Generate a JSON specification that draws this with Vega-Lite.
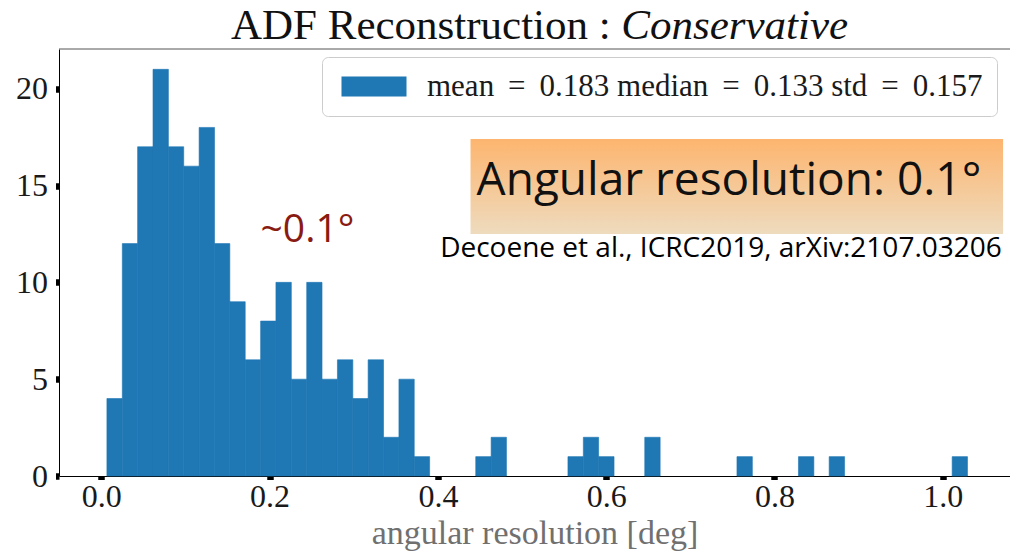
{
  "$schema": "https://vega.github.io/schema/vega-lite/v6.json",
  "width": 951,
  "height": 427,
  "autosize": "none",
  "padding": {"left": 59, "top": 49, "right": 0, "bottom": 79},
  "background": "#ffffff",
  "datasets": {
    "hist": [
      {"lo": 0.0066, "hi": 0.0249, "n": 4},
      {"lo": 0.0249, "hi": 0.0431, "n": 12},
      {"lo": 0.0431, "hi": 0.0614, "n": 17},
      {"lo": 0.0614, "hi": 0.0797, "n": 21},
      {"lo": 0.0797, "hi": 0.0979, "n": 17},
      {"lo": 0.0979, "hi": 0.1162, "n": 16},
      {"lo": 0.1162, "hi": 0.1345, "n": 18},
      {"lo": 0.1345, "hi": 0.1527, "n": 12},
      {"lo": 0.1527, "hi": 0.1710, "n": 9},
      {"lo": 0.1710, "hi": 0.1893, "n": 6},
      {"lo": 0.1893, "hi": 0.2075, "n": 8},
      {"lo": 0.2075, "hi": 0.2258, "n": 10},
      {"lo": 0.2258, "hi": 0.2441, "n": 5},
      {"lo": 0.2441, "hi": 0.2623, "n": 10},
      {"lo": 0.2623, "hi": 0.2806, "n": 5},
      {"lo": 0.2806, "hi": 0.2989, "n": 6},
      {"lo": 0.2989, "hi": 0.3171, "n": 4},
      {"lo": 0.3171, "hi": 0.3354, "n": 6},
      {"lo": 0.3354, "hi": 0.3537, "n": 2},
      {"lo": 0.3537, "hi": 0.3719, "n": 5},
      {"lo": 0.3719, "hi": 0.3902, "n": 1},
      {"lo": 0.4450, "hi": 0.4633, "n": 1},
      {"lo": 0.4633, "hi": 0.4815, "n": 2},
      {"lo": 0.5546, "hi": 0.5729, "n": 1},
      {"lo": 0.5729, "hi": 0.5911, "n": 2},
      {"lo": 0.5911, "hi": 0.6094, "n": 1},
      {"lo": 0.6459, "hi": 0.6642, "n": 2},
      {"lo": 0.7555, "hi": 0.7738, "n": 1},
      {"lo": 0.8286, "hi": 0.8469, "n": 1},
      {"lo": 0.8651, "hi": 0.8834, "n": 1},
      {"lo": 1.0113, "hi": 1.0295, "n": 1}
    ],
    "note": [{}]
  },
  "layer": [
    {
      "data": {"name": "hist"},
      "mark": {"type": "bar", "stroke": "#1f77b4", "strokeWidth": 0.6, "opacity": 1, "orient": "vertical"},
      "encoding": {
        "x": {
          "field": "lo",
          "type": "quantitative",
          "scale": {"domain": [-0.0444, 1.0741], "nice": false, "zero": false},
          "axis": {
            "values": [0, 0.2, 0.4, 0.6, 0.8, 1.0],
            "format": ".1f",
            "title": "angular resolution [deg]",
            "titleFontSize": 34,
            "titleColor": "#707070",
            "titleFont": "Liberation Serif",
            "titleFontWeight": "normal",
            "titlePadding": 4,
            "labelPadding": 2,
            "labelFlush": false,
            "labelOverlap": false
          }
        },
        "x2": {"field": "hi"},
        "y": {
          "field": "n",
          "type": "quantitative",
          "scale": {"domain": [0, 22.05], "nice": false, "zero": true},
          "axis": {
            "values": [0, 5, 10, 15, 20],
            "title": null,
            "labelPadding": 8
          }
        },
        "y2": {"datum": 0},
        "color": {
          "datum": "mean \u2009=\u2009 0.183 median \u2009=\u2009 0.133 std \u2009=\u2009 0.157",
          "type": "nominal",
          "scale": {"range": ["#1f77b4"]},
          "legend": {
            "title": null,
            "orient": "none",
            "legendX": 263,
            "legendY": 8,
            "padding": 14,
            "symbolType": "M-1,-1H5.5V1H-1Z",
            "symbolSize": 400,
            "symbolStrokeWidth": 0,
            "symbolOpacity": 1,
            "labelOffset": 60,
            "labelFont": "Liberation Serif",
            "labelFontSize": 31,
            "labelColor": "#1a1a1a",
            "labelLimit": 0,
            "strokeColor": "#cccccc",
            "fillColor": "#ffffff",
            "cornerRadius": 6
          }
        }
      }
    },
    {
      "data": {"name": "note"},
      "mark": {"type": "rule", "color": "#555555", "strokeWidth": 1},
      "encoding": {"y": {"datum": 22.05}}
    },
    {
      "data": {"name": "note"},
      "mark": {
        "type": "rect",
        "color": {
          "gradient": "linear",
          "x1": 0, "y1": 0, "x2": 0, "y2": 1,
          "stops": [
            {"offset": 0, "color": "#fdb56f"},
            {"offset": 1, "color": "#eedbbe"}
          ]
        }
      },
      "encoding": {
        "x": {"datum": 0.4388},
        "x2": {"datum": 1.0718},
        "y": {"datum": 17.40},
        "y2": {"datum": 12.50}
      }
    },
    {
      "data": {"name": "note"},
      "mark": {"type": "text", "font": "Open Sans", "fontSize": 46, "color": "#111111", "align": "center", "baseline": "alphabetic"},
      "encoding": {
        "x": {"datum": 0.746},
        "y": {"datum": 14.51},
        "text": {"value": "Angular resolution: 0.1°"}
      }
    },
    {
      "data": {"name": "note"},
      "mark": {"type": "text", "font": "Open Sans", "fontSize": 28, "color": "#000000", "align": "center", "baseline": "alphabetic"},
      "encoding": {
        "x": {"datum": 0.7365},
        "y": {"datum": 11.31},
        "text": {"value": "Decoene et al., ICRC2019, arXiv:2107.03206"}
      }
    },
    {
      "data": {"name": "note"},
      "mark": {"type": "text", "font": "Open Sans", "fontSize": 39, "color": "#8a1b12", "align": "center", "baseline": "alphabetic"},
      "encoding": {
        "x": {"datum": 0.245},
        "y": {"datum": 12.09},
        "text": {"value": "~0.1°"}
      }
    },
    {
      "data": {"name": "note"},
      "mark": {"type": "text", "font": "Liberation Serif", "fontSize": 43, "color": "#111111", "align": "right", "baseline": "alphabetic"},
      "encoding": {
        "x": {"datum": 0.6055},
        "y": {"datum": 22.58},
        "text": {"value": "ADF Reconstruction :"}
      }
    },
    {
      "data": {"name": "note"},
      "mark": {"type": "text", "font": "Liberation Serif", "fontStyle": "italic", "fontSize": 43, "color": "#111111", "align": "left", "baseline": "alphabetic"},
      "encoding": {
        "x": {"datum": 0.618},
        "y": {"datum": 22.58},
        "text": {"value": "Conservative"}
      }
    }
  ],
  "config": {
    "view": {"stroke": null},
    "axis": {
      "grid": false,
      "labelFont": "Liberation Serif",
      "labelFontSize": 32,
      "labelColor": "#1a1a1a",
      "tickColor": "#000000",
      "tickWidth": 6.5,
      "tickSize": 3.5,
      "domainColor": "#000000",
      "domainWidth": 1
    }
  }
}
